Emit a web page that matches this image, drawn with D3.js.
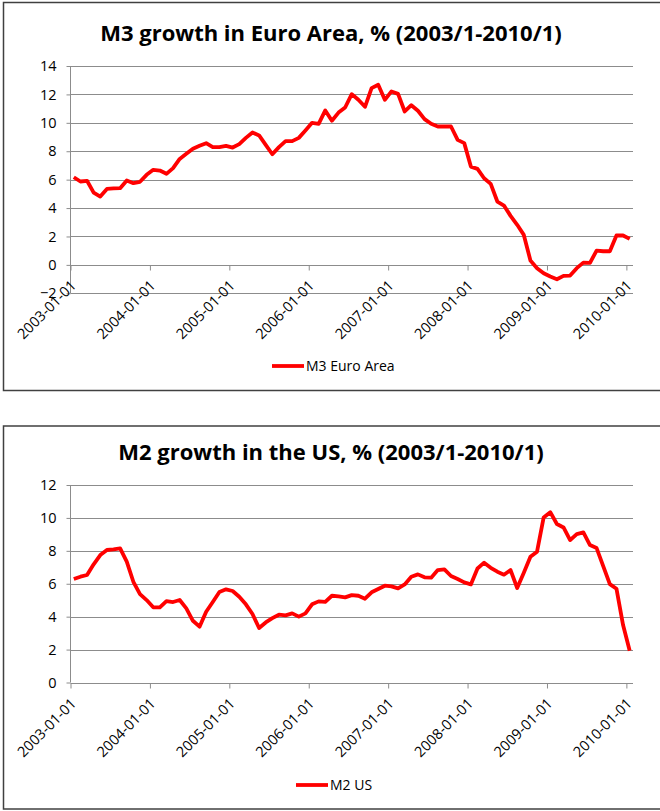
<!DOCTYPE html>
<meta charset="utf-8">
<style>
    body { margin: 0; background: #fff; }
    svg text { font-family: "Open Sans", "Noto Sans", sans-serif; fill: #000; }
    .grid line { stroke: #8c8c8c; stroke-width: 1; }
    .axis path, .axis line { stroke: #8c8c8c; stroke-width: 1; }
    .axis .domain { display: none; }
</style>
<body>
<svg id="chart" width="660" height="811"></svg>
<script src="https://cdnjs.cloudflare.com/ajax/libs/d3/7.8.5/d3.min.js"></script>
<script>
// monthly categories 2003/1 .. 2010/1
var months = d3.timeMonth.range(new Date(2003, 0, 1), new Date(2010, 1, 1));
var tickLabels = ["2003-01-01", "2004-01-01", "2005-01-01", "2006-01-01",
    "2007-01-01", "2008-01-01", "2009-01-01", "2010-01-01"];

// M3 growth in Euro Area, %
var m3Euro = [6.17, 5.87, 5.92, 5.09, 4.81, 5.35, 5.38, 5.40, 5.94, 5.75, 5.85, 6.34,
    6.69, 6.64, 6.41, 6.81, 7.46, 7.82, 8.17, 8.38, 8.57, 8.29, 8.29, 8.38,
    8.26, 8.50, 8.94, 9.32, 9.11, 8.45, 7.79, 8.29, 8.71, 8.71, 8.94, 9.46,
    10.0, 9.93, 10.87, 10.15, 10.72, 11.08, 12.02, 11.62, 11.13, 12.44, 12.68, 11.62,
    12.21, 12.04, 10.80, 11.24, 10.85, 10.26, 9.93, 9.74, 9.74, 9.74, 8.80, 8.57,
    6.92, 6.76, 6.10, 5.70, 4.46, 4.18, 3.45, 2.82, 2.11, 0.31, -0.23, -0.59,
    -0.82, -1.01, -0.77, -0.75, -0.23, 0.16, 0.14, 1.01, 0.96, 0.96, 2.07, 2.07,
    1.83];

// M2 growth in the US, %
var m2US = [6.29, 6.43, 6.53, 7.18, 7.74, 8.05, 8.09, 8.15, 7.34, 6.12, 5.37, 5.01,
    4.57, 4.57, 4.95, 4.89, 5.01, 4.50, 3.75, 3.39, 4.30, 4.89, 5.50, 5.66,
    5.56, 5.21, 4.75, 4.16, 3.31, 3.65, 3.91, 4.12, 4.08, 4.20, 4.00, 4.20,
    4.75, 4.93, 4.90, 5.27, 5.23, 5.17, 5.31, 5.27, 5.09, 5.48, 5.68, 5.88,
    5.84, 5.72, 5.96, 6.43, 6.57, 6.39, 6.37, 6.83, 6.87, 6.47, 6.29, 6.08,
    5.96, 6.93, 7.28, 6.97, 6.73, 6.55, 6.83, 5.74, 6.67, 7.64, 7.95, 10.03,
    10.35, 9.63, 9.42, 8.65, 9.02, 9.12, 8.35, 8.17, 7.07, 5.98, 5.70, 3.49,
    1.93];

var m3Ticks = [-2, 0, 2, 4, 6, 8, 10, 12, 14];
var m2Ticks = [0, 2, 4, 6, 8, 10, 12];

var svg = d3.select("#chart");

function drawPanel(cfg) {
    var g = svg.append("g");

    // outer frame (right edge runs off the page)
    g.append("rect")
        .attr("x", 3.5).attr("y", cfg.frameTop)
        .attr("width", 700).attr("height", cfg.frameHeight)
        .attr("fill", "#fff").attr("stroke", "#404040").attr("stroke-width", 1.5);

    g.append("text")
        .attr("x", 331).attr("y", cfg.titleY)
        .attr("text-anchor", "middle")
        .style("font-size", "22px").style("font-weight", "bold")
        .text(cfg.title);

    var x = d3.scaleLinear().domain([0, months.length]).range([70.5, 633]);
    var y = d3.scaleLinear().domain(d3.extent(cfg.ticks)).range(cfg.yRange);

    // horizontal gridlines
    g.append("g").attr("class", "grid")
        .selectAll("line").data(cfg.ticks).enter().append("line")
        .attr("x1", x(0)).attr("x2", x(months.length))
        .attr("y1", function (d) { return Math.round(y(d)) + 0.5; })
        .attr("y2", function (d) { return Math.round(y(d)) + 0.5; });

    // y axis
    var ya = g.append("g").attr("class", "axis")
        .attr("transform", "translate(" + x(0) + ",0)")
        .call(d3.axisLeft(y).tickValues(cfg.ticks).tickSize(4).tickPadding(10));
    ya.append("line")
        .attr("y1", y(cfg.ticks[0])).attr("y2", y(cfg.ticks[cfg.ticks.length - 1]));
    ya.selectAll("text").style("font-size", "14.5px");

    // x axis on the zero line
    var xa = g.append("g").attr("class", "axis")
        .attr("transform", "translate(0," + (Math.round(y(0)) + 0.5) + ")")
        .call(d3.axisBottom(x).tickValues(d3.range(0, 85, 12)).tickSize(5)
            .tickFormat(function (d) { return tickLabels[d / 12]; }));
    xa.selectAll("text")
        .attr("y", 0).attr("dy", 0)
        .attr("text-anchor", "end")
        .attr("transform", "translate(6,21) rotate(-45)")
        .style("font-size", "14.5px");

    var line = d3.line()
        .x(function (d, i) { return x(i + 0.5); })
        .y(function (d) { return y(d); });

    g.append("path")
        .datum(cfg.values)
        .attr("d", line)
        .attr("fill", "none")
        .attr("stroke", "#ff0000")
        .attr("stroke-width", 3.8)
        .attr("stroke-linejoin", "round");

    // legend
    g.append("line")
        .attr("x1", cfg.legendX).attr("x2", cfg.legendX + 32)
        .attr("y1", cfg.legendY).attr("y2", cfg.legendY)
        .attr("stroke", "#ff0000").attr("stroke-width", 3.8);
    g.append("text")
        .attr("x", cfg.legendX + 34).attr("y", cfg.legendY)
        .attr("dy", "0.35em")
        .style("font-size", "14px")
        .text(cfg.legend);
}

drawPanel({
    frameTop: 2.5, frameHeight: 388,
    title: "M3 growth in Euro Area, % (2003/1-2010/1)", titleY: 41,
    ticks: m3Ticks, yRange: [293.3, 66],
    values: m3Euro,
    legend: "M3 Euro Area", legendX: 272, legendY: 366
});

drawPanel({
    frameTop: 426, frameHeight: 383,
    title: "M2 growth in the US, % (2003/1-2010/1)", titleY: 460,
    ticks: m2Ticks, yRange: [682.5, 485],
    values: m2US,
    legend: "M2 US", legendX: 296, legendY: 785
});
</script>
</body>
